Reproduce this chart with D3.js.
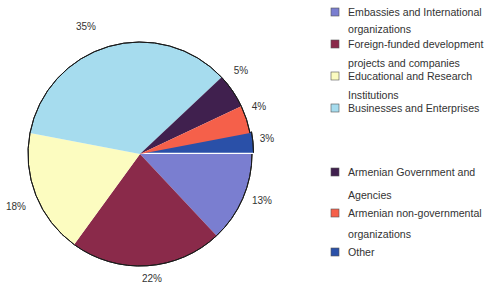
<!DOCTYPE html>
<html><head><meta charset="utf-8">
<script src="https://cdn.jsdelivr.net/npm/d3@7"></script>
<style>body{margin:0;background:#fff}svg{display:block}</style>
</head><body>
<svg id="c" width="485" height="284"></svg>
<script>
const categories = ["Embassies and International organizations","Foreign-funded development projects and companies","Educational and Research Institutions","Businesses and Enterprises","Armenian Government and Agencies","Armenian non-governmental organizations","Other"];
const legendLines = [["Embassies and International","organizations"],["Foreign-funded development","projects and companies"],["Educational and Research","Institutions"],["Businesses and Enterprises"],["Armenian Government and","Agencies"],["Armenian non-governmental","organizations"],["Other"]];
const values = [13,22,18,35,5,4,3];
const labels = ["13%","22%","18%","35%","5%","4%","3%"];
const colors = ["#7a7ed0","#8a2a4a","#fcfcc0","#a6dcee","#40204e","#f5604a","#2a50a8"];

const svg = d3.select("#c");
const cx = 140, cy = 154, r = 112;
const pie = d3.pie().sort(null).value(d=>d).startAngle(Math.PI/2).endAngle(Math.PI/2+2*Math.PI);
const arcs = pie(values);
const arc = d3.arc().innerRadius(0).outerRadius(r);
const rim = d3.arc().innerRadius(r).outerRadius(r);
const g = svg.append("g").attr("transform",`translate(${cx},${cy})`);
const explode = [0,0,0,0,0,0,1.5];
const order = [6,0,1,2,3,4,5];
order.forEach(i=>{
  const a = arcs[i];
  const m = (a.startAngle+a.endAngle)/2;
  const ex = explode[i];
  const sg = g.append("g").attr("transform",`translate(${ex*Math.sin(m)},${-ex*Math.cos(m)-(ex?1.2:0)})`);
  sg.append("path").attr("d",arc(a)).attr("fill",colors[i]);
  sg.append("path").attr("d",rim(a)).attr("fill","none").attr("stroke","#1a1a1a").attr("stroke-width",1);
});
// labels
const labelPos = [[262,200],[152,278],[16,206],[86,26],[241,70],[259,106],[267,138]];
labels.forEach((t,i)=>{
  svg.append("text").attr("x",labelPos[i][0]).attr("y",labelPos[i][1]+3.5)
    .attr("text-anchor","middle").attr("font-family","Liberation Sans, Arial, sans-serif")
    .attr("font-size",10).attr("fill","#333").text(t);
});
// legend
const itemY = [12,44,76,108,172,213,252];
const lineGap = [17,19,19,0,23,21,0];
const lg = svg.append("g");
legendLines.forEach((lines,i)=>{
  lg.append("rect").attr("x",331).attr("y",itemY[i]-4).attr("width",8).attr("height",8)
    .attr("fill",colors[i]).attr("stroke","#555").attr("stroke-width",0.6);
  lines.forEach((t,j)=>{
    lg.append("text").attr("x",348).attr("y",itemY[i]+4+j*lineGap[i])
      .attr("font-family","Liberation Sans, Arial, sans-serif").attr("font-size",10.6)
      .attr("fill","#333").text(t);
  });
});
</script>
</body></html>
